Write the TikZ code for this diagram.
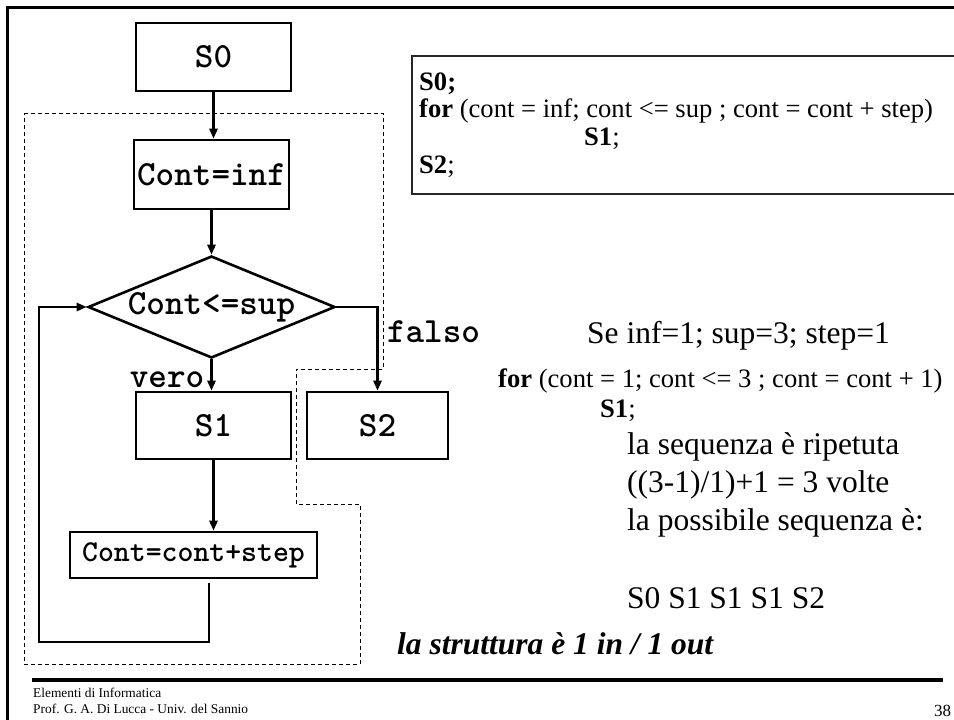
\documentclass[tikz,border=0pt]{standalone}
\usepackage{fontspec}
\setmainfont{Liberation Serif}
\usetikzlibrary{shapes.geometric,arrows.meta}

\begin{document}
\begin{tikzpicture}[x=1pt,y=-1pt,
  fbox/.style={draw, line width=2.6pt, inner sep=0pt,
    font=\ttfamily\bfseries\fontsize{35.4}{35.4}\selectfont},
  smallbox/.style={fbox, font=\ttfamily\bfseries\fontsize{30.3}{30.3}\selectfont},
  decision/.style={fbox, diamond, aspect=2.42},
  flow/.style={line width=2.6pt, -{Stealth[length=10pt,width=8pt,inset=0pt]}},
  region/.style={line width=1pt, dash pattern=on 4pt off 3pt},
  frameline/.style={line width=3pt},
  blabel/.style={anchor=base, inner sep=0pt,
    font=\ttfamily\bfseries\fontsize{35.4}{35.4}\selectfont},
  codetext/.style={anchor=base west, inner sep=0pt,
    font=\fontsize{26.6}{26.6}\selectfont},
  bigtext/.style={anchor=base west, inner sep=0pt,
    font=\fontsize{31.5}{31.5}\selectfont},
  foottext/.style={anchor=base west, inner sep=0pt,
    font=\fontsize{13.4}{13.4}\selectfont}]

\useasboundingbox (0,0) rectangle (954,720);
\clip (0,0) rectangle (954,720);

% slide frame and footer rule
\draw[frameline] (7.5,730) -- (7.5,7.5) -- (960,7.5);
\draw[line width=3.5pt] (32,680) -- (943,680);

% dashed outline of the for structure
\draw[region] (24,113) -- (383,113) -- (383,369) -- (296,369) -- (296,504)
  -- (360,504) -- (360,664) -- (24,664) -- cycle;

% flowchart blocks
\node[fbox, minimum width=155pt, minimum height=68pt] (s0) at (213.5,57) {S0};
\node[fbox, minimum width=155pt, minimum height=69pt] (init) at (211.5,174.5) {Cont=inf};
\node[decision, minimum width=247pt, minimum height=102pt] (test) at (211.5,307) {Cont<=sup};
\node[fbox, minimum width=155pt, minimum height=67pt] (s1) at (213.5,425.5) {S1};
\node[fbox, minimum width=141pt, minimum height=67pt] (s2) at (377.5,425.5) {S2};
\node[smallbox, minimum width=247pt, minimum height=46pt] (incr) at (193.5,555) {Cont=cont+step};

% connectors
\draw[flow] (s0.south) -- (s0.south |- init.north);
\draw[flow] (init.south) -- (init.south |- test.north);
\draw[flow] (test.south) -- (test.south |- s1.north);
\draw[flow] (test.east) -| (s2.north);
\draw[flow] (s1.south) -- (s1.south |- incr.north);
\coordinate (loopstart) at (209,583);
\coordinate (loopcorner) at (39,642);
\draw[flow] (loopstart) |- (loopcorner) |- (test.west);

% branch labels
\node[blabel] (vero) at (167,387) {vero};
\node[blabel] (falso) at (433.5,342) {falso};

% code box
\draw[line width=1.3pt, draw=black!85] (412,56) rectangle (975,194);
\node[codetext] (c1) at (419,90) {\textbf{S0;}};
\node[codetext] (c2) at (419,117) {\textbf{for} (cont = inf; cont <= sup ; cont = cont + step)};
\node[codetext] (c3) at (584,145) {\textbf{S1};};
\node[codetext] (c4) at (419,173) {\textbf{S2};};

% worked example
\node[bigtext] (t1) at (587,343) {Se inf=1; sup=3; step=1};
\node[codetext] (t2) at (498,387) {\textbf{for} (cont = 1; cont <= 3 ; cont = cont + 1)};
\node[codetext] (t3) at (600,417) {\textbf{S1};};
\node[bigtext] (t4) at (627,454) {la sequenza è ripetuta};
\node[bigtext] (t5) at (627,492) {((3-1)/1)+1 = 3 volte};
\node[bigtext] (t6) at (627,530) {la possibile sequenza è:};
\node[bigtext] (t7) at (627,608) {S0 S1 S1 S1 S2};
\node[bigtext, font=\fontsize{31.5}{31.5}\selectfont\bfseries\itshape] (t8) at (397,654) {la struttura è 1 in / 1 out};

% footer
\node[foottext] (f1) at (33,697) {Elementi di Informatica};
\node[foottext] (f2) at (33,713) {Prof. G. A. Di Lucca - Univ. del Sannio};
\node[foottext, font=\fontsize{17}{17}\selectfont] (pg) at (934,716) {38};
\end{tikzpicture}
\end{document}
